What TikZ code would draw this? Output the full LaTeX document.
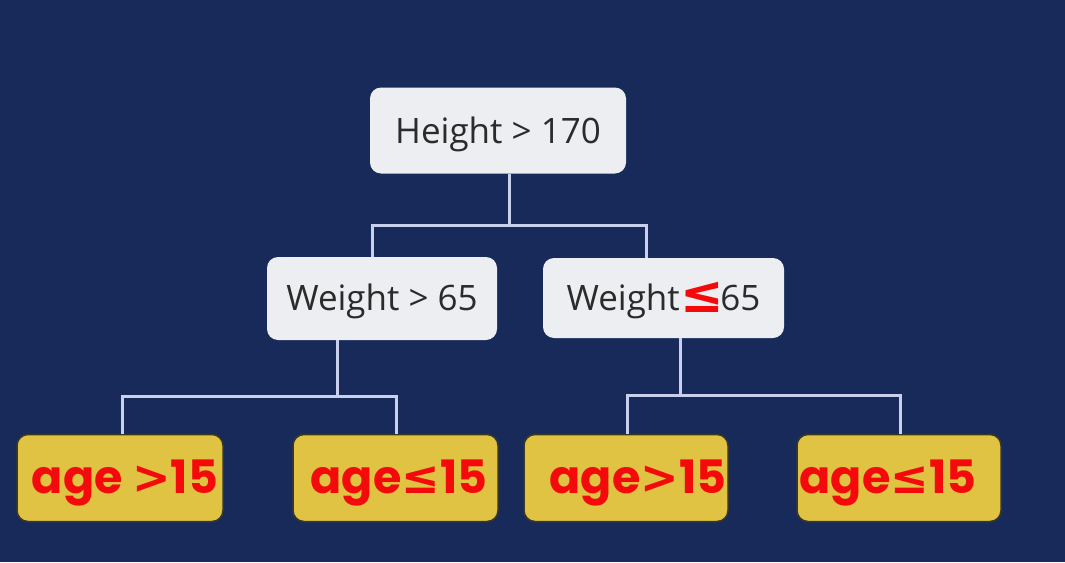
\documentclass[tikz,border=0pt]{standalone}
\usepackage{fontspec}
\setmainfont{Open Sans}
\newfontfamily\handfont{Poppins}
\newfontfamily\symfont{DejaVu Sans}
\definecolor{bgnavy}{HTML}{172A5A}
\definecolor{boxgray}{HTML}{EDEEF1}
\definecolor{txtgray}{HTML}{2B2B2B}
\definecolor{leafyellow}{HTML}{E0C343}
\definecolor{leafedge}{HTML}{3A3A24}
\definecolor{linecol}{HTML}{C9D0EE}
\definecolor{inkred}{HTML}{F40A0A}
\newcommand{\lowbase}[2]{\raisebox{-#1}[0pt][0pt]{#2}}
\tikzset{
  graybox/.style={fill=boxgray, rounded corners=11pt, text=txtgray, inner sep=0pt,
    font=\fontsize{35}{40}\selectfont},
  leafbox/.style={fill=leafyellow, draw=leafedge, line width=1.5pt, rounded corners=11pt, inner sep=0pt},
  inktext/.style={text=inkred, inner sep=0pt, anchor=base, font=\handfont\bfseries\fontsize{46}{52}\selectfont},
  conn/.style={draw=linecol, line width=3pt}
}
\begin{document}
\begin{tikzpicture}[x=1pt,y=-1pt]
\fill[bgnavy] (0,0) rectangle (1065,562);
\useasboundingbox (0,0) rectangle (1065,562);
% gray nodes
\node[graybox, minimum width=256pt, minimum height=86pt] (root) at (498,130.5) {\lowbase{12.5pt}{Height > 170}};
\node[graybox, minimum width=230pt, minimum height=83pt] (ml) at (382,298.5) {\lowbase{12pt}{Weight > 65}};
\node[graybox, minimum width=241pt, minimum height=80pt] (mr) at (663.5,298) {\lowbase{12pt}{Weight\hspace{1pt}{\symfont\bfseries\color{inkred}\fontsize{52}{56}\selectfont\raisebox{-2pt}{≤}}\hspace{-4pt}65}};
% leaf boxes
\node[leafbox, minimum width=206pt, minimum height=87pt] (l1) at (120,478) {};
\node[leafbox, minimum width=205pt, minimum height=87pt] (l2) at (395.5,478) {};
\node[leafbox, minimum width=204pt, minimum height=87pt] (l3) at (626,478) {};
\node[leafbox, minimum width=204pt, minimum height=87pt] (l4) at (899,478) {};
% leaf labels
\node[inktext] (t1) at (125,493) {age {\symfont\bfseries >}15};
\node[inktext] (t2) at (399,493) {age{\symfont\bfseries ≤}15};
\node[inktext] (t3) at (638,493) {age{\symfont\bfseries >}15};
\node[inktext] (t4) at (888,493) {age{\symfont\bfseries ≤}15};
% junctions
\coordinate (j0) at (509,225);
\coordinate (j1) at (337,396);
\coordinate (j2) at (680,395);
% connectors
\draw[conn] ([xshift=11pt]root.south) -- (j0);
\draw[conn] ([xshift=-10pt]ml.north) |- (j0) -| ([xshift=-17.5pt]mr.north);
\draw[conn] ([xshift=-45pt]ml.south) -- (j1);
\draw[conn] ([xshift=2pt]l1.north) |- (j1) -| ([xshift=0.5pt]l2.north);
\draw[conn] ([xshift=16.5pt]mr.south) -- (j2);
\draw[conn] ([xshift=1pt]l3.north) |- (j2) -| ([xshift=1pt]l4.north);
\end{tikzpicture}
\end{document}
